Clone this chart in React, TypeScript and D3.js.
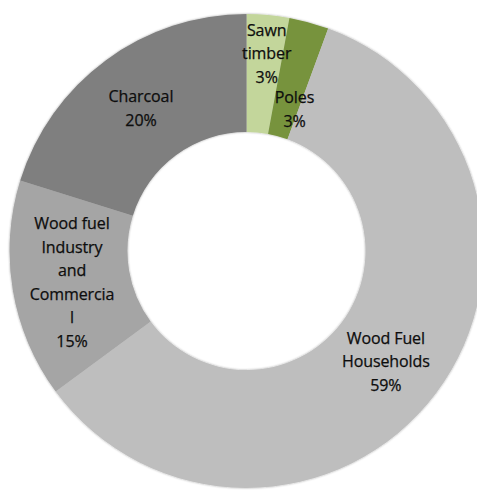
import React from "react";
import * as d3 from "d3";

const categories = ["Sawn timber", "Poles", "Wood Fuel Households", "Wood fuel Industry and Commercial", "Charcoal"];
const values = [2.9, 2.7, 59.3, 14.9, 20.2];
const labelLines = [
  ["Sawn", "timber"],
  ["Poles"],
  ["Wood Fuel", "Households"],
  ["Wood fuel", "Industry", "and", "Commercia", "l"],
  ["Charcoal"],
];
const colors = ["#c3d69b", "#77933c", "#bebebe", "#a5a5a5", "#7f7f7f"];
// label placement tweaks (radial nudges like Excel's layout)
const labelShift = [
  [4, -21],
  [1, 29],
  [-3, 3],
  [1, 1],
  [0, 0],
];

const W = 477;
const H = 491;
const cx = 246.5;
const cy = 251;
const outerR = 237;
const innerR = 119;
const lineH = 23.5;

export default function App() {
  const pie = d3.pie<number>().sort(null).value((d) => d);
  const arcs = pie(values);
  const arc = d3.arc<d3.PieArcDatum<number>>().innerRadius(innerR).outerRadius(outerR);

  return (
    <svg
      width={W}
      height={H}
      style={{ position: "fixed", left: 0, top: 0, background: "#fff" }}
      fontFamily="'Open Sans', 'Liberation Sans', sans-serif"
    >
      <defs>
        <filter id="sh" x="-10%" y="-10%" width="120%" height="120%">
          <feDropShadow dx="0" dy="0" stdDeviation="1.2" floodColor="#000" floodOpacity="0.35" />
        </filter>
      </defs>
      <g transform={`translate(${cx},${cy})`}>
        <g filter="url(#sh)">
          {arcs.map((a, i) => (
            <path key={categories[i]} d={arc(a) || ""} fill={colors[i]} />
          ))}
        </g>
        {arcs.map((a, i) => {
          const [x, y] = arc.centroid(a);
          const lines = [...labelLines[i], `${Math.round(values[i])}%`];
          const n = lines.length;
          const x0 = x + labelShift[i][0];
          const y0 = y + labelShift[i][1] - ((n - 1) * lineH) / 2 + 6.5;
          return (
            <text
              key={"l" + i}
              x={x0}
              y={y0}
              textAnchor="middle"
              fontSize={16}
              fill="#0d0d0d"
              stroke="#0d0d0d"
              strokeWidth={0.25}
              letterSpacing={-0.1}
            >
              {lines.map((t, j) => (
                <tspan key={j} x={x0} y={y0 + j * lineH}>
                  {t}
                </tspan>
              ))}
            </text>
          );
        })}
      </g>
    </svg>
  );
}
